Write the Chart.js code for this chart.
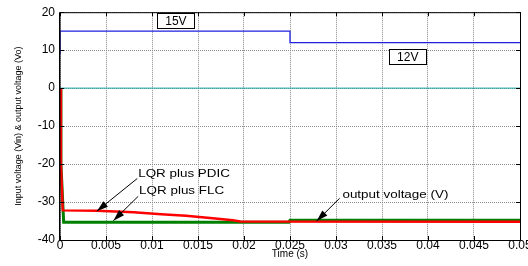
<!DOCTYPE html>
<html><head><meta charset="utf-8">
<script src="https://cdn.jsdelivr.net/npm/chart.js@4"></script>
<style>html,body{margin:0;padding:0;background:#fff}#wrap{width:528px;height:266px}</style>
</head><body><div id="wrap"><canvas id="c" width="528" height="266"></canvas></div>
<script>
// ---- data (time in s, voltage in V) ----
const inputTime   = [0, 0, 0.025, 0.025, 0.05];
const inputV      = [9, 15, 15, 12, 12];
const zeroTime    = [0, 0.05];
const zeroV       = [0, 0];
const pdicTime    = [0, 0.0001, 0.0003, 0.004, 0.008, 0.011, 0.0137, 0.0166, 0.0188, 0.0196, 0.05];
const pdicV       = [0, -20, -32.2, -32.3, -32.7, -33.2, -33.6, -34.3, -34.8, -35.1, -35.2];
const flcTime     = [0, 0.0001, 0.0004, 0.0249, 0.025, 0.05];
const flcV        = [0, -20, -35.3, -35.3, -34.8, -34.8];
const xTicks      = [0, 0.005, 0.01, 0.015, 0.02, 0.025, 0.03, 0.035, 0.04, 0.045, 0.05];
const yTicks      = [20, 10, 0, -10, -20, -30, -40];
const boxLabels   = [{t: 0.0126, v: 17.8, text: '15V'}, {t: 0.0378, v: 8.3, text: '12V'}];
const arrowNotes  = [
  {text: 'LQR plus PDIC', tx: 0.0085, tv: -22.7, fx: 0.0084, fv: -23.8, ax: 0.0040, av: -32.4},
  {text: 'LQR plus FLC', tx: 0.0086, tv: -27.2, fx: 0.0085, fv: -28.5, ax: 0.0058, av: -34.9},
  {text: 'output voltage (V)', tx: 0.0307, tv: -28.2, fx: 0.0304, fv: -29.0, ax: 0.0279, av: -35.0}
];

const toXY = (ts, vs) => ts.map((t, i) => ({x: t, y: vs[i]}));
const FONT = 'Liberation Sans, Arial, sans-serif';

const decor = {
  id: 'decor',
  afterDatasetsDraw(chart) {
    const {ctx, chartArea: a, scales: {x, y}} = chart;
    ctx.save();
    // frame
    ctx.strokeStyle = '#000'; ctx.lineWidth = 1;
    ctx.beginPath();
    ctx.moveTo(a.left + 0.5, a.top + 0.5); ctx.lineTo(a.right + 0.5, a.top + 0.5);
    ctx.lineTo(a.right + 0.5, a.bottom + 0.5); ctx.lineTo(a.left + 0.5, a.bottom + 0.5);
    ctx.stroke();
    ctx.lineWidth = 1.5;
    ctx.beginPath(); ctx.moveTo(a.left - 0.25, a.top); ctx.lineTo(a.left - 0.25, a.bottom + 1); ctx.stroke();
    ctx.lineWidth = 1;
    // inward ticks
    ctx.beginPath();
    xTicks.forEach(t => { const px = Math.round(x.getPixelForValue(t)) + 0.5;
      ctx.moveTo(px, a.bottom); ctx.lineTo(px, a.bottom - 4);
      ctx.moveTo(px, a.top); ctx.lineTo(px, a.top + 4); });
    yTicks.forEach(v => { const py = Math.round(y.getPixelForValue(v)) + 0.5;
      ctx.moveTo(a.left, py); ctx.lineTo(a.left + 4, py);
      ctx.moveTo(a.right, py); ctx.lineTo(a.right - 4, py); });
    ctx.stroke();
    // boxed labels
    ctx.font = '12px ' + FONT; ctx.textBaseline = 'middle'; ctx.textAlign = 'center';
    boxLabels.forEach(b => {
      const cx = x.getPixelForValue(b.t), cy = y.getPixelForValue(b.v);
      const w = 37, h = 15;
      ctx.fillStyle = '#fff';
      ctx.fillRect(cx - w / 2, cy - h / 2, w, h);
      ctx.strokeStyle = '#000'; ctx.lineWidth = 1;
      ctx.strokeRect(Math.round(cx - w / 2) + 0.5, Math.round(cy - h / 2) + 0.5, w, h);
      ctx.fillStyle = '#000'; ctx.fillText(b.text, cx, cy + 1);
    });
    // arrow notes
    arrowNotes.forEach(n => {
      const x1 = x.getPixelForValue(n.fx), y1 = y.getPixelForValue(n.fv);
      const x2 = x.getPixelForValue(n.ax), y2 = y.getPixelForValue(n.av);
      ctx.strokeStyle = '#000'; ctx.fillStyle = '#000'; ctx.lineWidth = 1;
      ctx.beginPath(); ctx.moveTo(x1, y1); ctx.lineTo(x2, y2); ctx.stroke();
      const ang = Math.atan2(y2 - y1, x2 - x1), L = 12, W = 0.3;
      ctx.beginPath(); ctx.moveTo(x2, y2);
      ctx.lineTo(x2 - L * Math.cos(ang - W), y2 - L * Math.sin(ang - W));
      ctx.lineTo(x2 - L * Math.cos(ang + W), y2 - L * Math.sin(ang + W));
      ctx.closePath(); ctx.fill();
      ctx.save();
      ctx.translate(x.getPixelForValue(n.tx), y.getPixelForValue(n.tv));
      ctx.scale(1.22, 1);
      ctx.font = '11px ' + FONT; ctx.textAlign = 'left'; ctx.textBaseline = 'middle';
      ctx.fillText(n.text, 0, 0);
      ctx.restore();
    });
    ctx.restore();
  }
};

new Chart(document.getElementById('c'), {
  type: 'line',
  data: {
    datasets: [
      {data: toXY(pdicTime, pdicV), borderColor: '#ff0000', borderWidth: 2.5},
      {data: toXY(flcTime, flcV), borderColor: '#008000', borderWidth: 3},
      {data: toXY(zeroTime, zeroV), borderColor: '#1aa6a6', borderWidth: 1},
      {data: toXY(inputTime, inputV), borderColor: '#2020e0', borderWidth: 1.3}
    ]
  },
  options: {
    responsive: false, animation: false,
    parsing: false,
    elements: {point: {radius: 0}, line: {tension: 0}},
    layout: {padding: {top: 11, right: 8, left: 0, bottom: 0}},
    plugins: {legend: {display: false}, tooltip: {enabled: false}},
    scales: {
      x: {
        type: 'linear', min: 0, max: 0.05,
        afterBuildTicks(s) { s.ticks = xTicks.map(v => ({value: v})); },
        afterFit(s) { s.height = 26; s.paddingLeft = 0; s.paddingRight = 0; },
        ticks: {font: {family: FONT, size: 12}, color: '#000', padding: -2, maxRotation: 0,
          autoSkip: false, callback: v => String(+v.toFixed(3))},
        grid: {color: '#8a8a8a', lineWidth: 1, drawTicks: false},
        border: {display: false, dash: [1, 1]},
        title: {display: true, text: 'Time (s)', font: {family: FONT, size: 10}, color: '#000', padding: {top: 0, bottom: 6}}
      },
      y: {
        type: 'linear', min: -40, max: 20,
        afterBuildTicks(s) { s.ticks = yTicks.map(v => ({value: v})); },
        afterFit(s) { s.width = 60; },
        ticks: {font: {family: FONT, size: 12}, color: '#000', padding: 5},
        grid: {color: '#8a8a8a', lineWidth: 1, drawTicks: false},
        border: {display: false, dash: [1, 1]},
        title: {display: true, text: 'Input voltage (Vin) & output voltage (Vo)', font: {family: FONT, size: 9}, color: '#000', padding: {top: 13, bottom: 0}}
      }
    }
  },
  plugins: [decor]
});
</script></body></html>
